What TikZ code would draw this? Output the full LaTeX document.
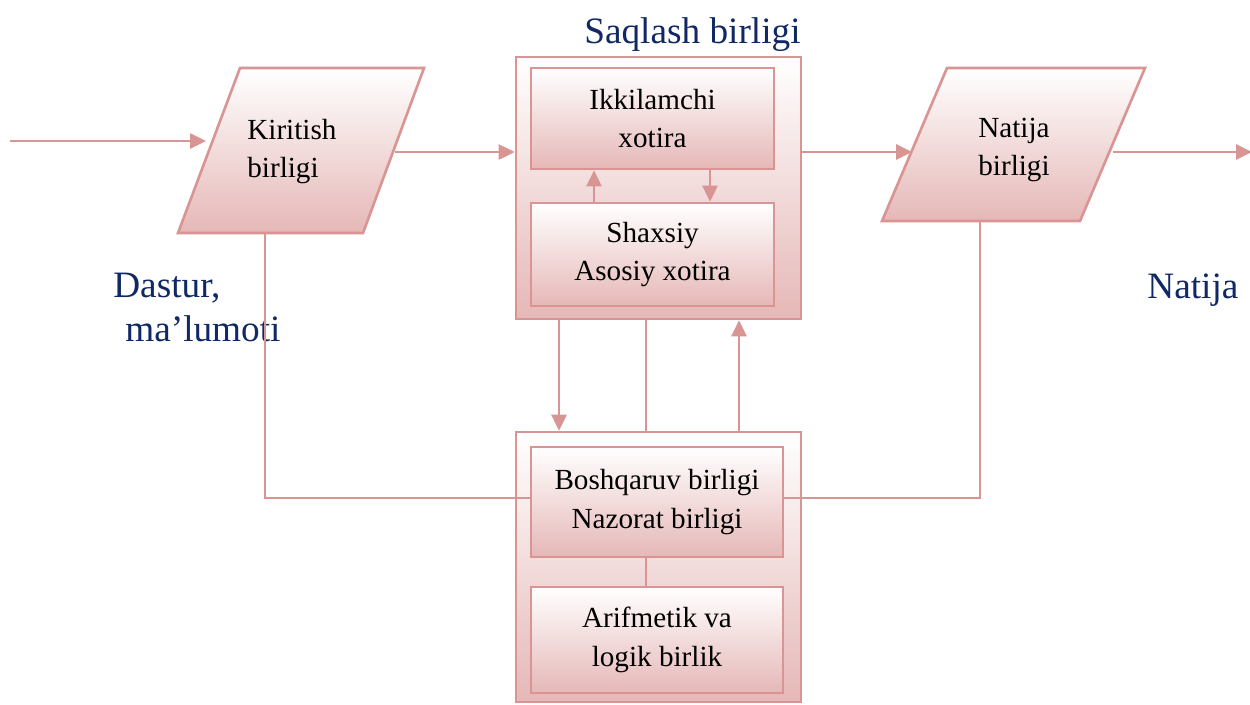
\documentclass[tikz,border=0pt]{standalone}
\usepackage{fontspec}
\setmainfont{Liberation Serif}
\usetikzlibrary{arrows.meta,calc}
\definecolor{pinkline}{HTML}{D99594}
\definecolor{pinkfill}{HTML}{E5B8B7}
\definecolor{navy}{RGB}{16,40,100}
\begin{document}
\begin{tikzpicture}[x=0.02cm,y=-0.02cm,
  box/.style={draw=pinkline,line width=1.5pt,top color=white,bottom color=pinkfill,
    inner sep=0pt,align=center,font=\fontsize{16.6}{22}\selectfont},
  txt/.style={inner sep=0pt,font=\fontsize{16.6}{22}\selectfont},
  bluetxt/.style={inner sep=0pt,text=navy,font=\fontsize{21.2}{25}\selectfont},
  ln/.style={draw=pinkline,line width=1.5pt},
  arr/.style={ln,-{Triangle[length=0.32cm,width=0.3cm]}}]
\path[use as bounding box,fill=white] (0,0) rectangle (1250,704);
% storage unit
\node[box,minimum width=5.7cm,minimum height=5.24cm] (st) at (658.5,188) {};
\node[box,minimum width=4.86cm,minimum height=2.02cm] (ik) at (652.5,118.5) {Ikkilamchi\\xotira};
\node[box,minimum width=4.86cm,minimum height=2.06cm] (sh) at (652.5,254.5) {Shaxsiy\\Asosiy xotira};
% control unit
\node[box,minimum width=5.7cm,minimum height=5.4cm] (ct) at (658.5,567) {};
\node[box,minimum width=5.04cm,minimum height=2.2cm] (bq) at (657,502) {Boshqaruv birligi\\Nazorat birligi};
\node[box,minimum width=5.04cm,minimum height=2.12cm] (ar) at (657,640) {Arifmetik va\\logik birlik};
% input parallelogram
\coordinate (k1) at (240,68); \coordinate (k2) at (424,68);
\coordinate (k3) at (363,233); \coordinate (k4) at (178,233);
\draw[ln,top color=white,bottom color=pinkfill] (k1) -- (k2) -- (k3) -- (k4) -- cycle;
\node[txt,align=left,anchor=west] (kt) at (247,151.5) {Kiritish\\birligi};
% output parallelogram
\coordinate (n1) at (947,68); \coordinate (n2) at (1145,68);
\coordinate (n3) at (1080,221); \coordinate (n4) at (882,221);
\draw[ln,top color=white,bottom color=pinkfill] (n1) -- (n2) -- (n3) -- (n4) -- cycle;
\node[txt,align=center] (nt) at (1014,150) {Natija\\birligi};
% labels
\node[bluetxt,anchor=base west] (sq) at (584,43) {Saqlash birligi};
\node[bluetxt,anchor=base west] (nl) at (1147,298) {Natija};
\node[bluetxt,align=left,anchor=north west] (ds) at (113,273) {Dastur,\\\hspace*{0.24cm}ma’lumoti};
% connectors
\coordinate (in0) at (10,141); \coordinate (in1) at (206,141);
\draw[arr] (in0) -- (in1);
\coordinate (kr) at (395,152);
\draw[arr] (kr) -- (kr -| st.west);
\coordinate (nle) at (912,152);
\draw[arr] (st.east |- kr) -- (nle);
\coordinate (nr) at (1113,152); \coordinate (outp) at (1252,152);
\draw[arr] (nr) -- (outp);
% inner storage arrows
\coordinate (xa) at (594,0); \coordinate (xb) at (710,0);
\draw[arr] (sh.north -| xa) -- (ik.south -| xa);
\draw[arr] (ik.south -| xb) -- (sh.north -| xb);
% storage <-> control
\coordinate (xc) at (559,0); \coordinate (xd) at (646,0); \coordinate (xe) at (739,0);
\draw[arr] (st.south -| xc) -- (ct.north -| xc);
\draw[ln] (st.south -| xd) -- (ct.north -| xd);
\draw[arr] (ct.north -| xe) -- (st.south -| xe);
\draw[ln] (bq.south -| xd) -- (ar.north -| xd);
% feedback lines
\coordinate (kb) at (265,233); \coordinate (kbl) at (265,498);
\draw[ln] (kb) -- (kbl) -- (bq.west |- kbl);
\coordinate (nb) at (980,221); \coordinate (nbl) at (980,498);
\draw[ln] (nb) -- (nbl) -- (bq.east |- nbl);
\end{tikzpicture}
\end{document}
